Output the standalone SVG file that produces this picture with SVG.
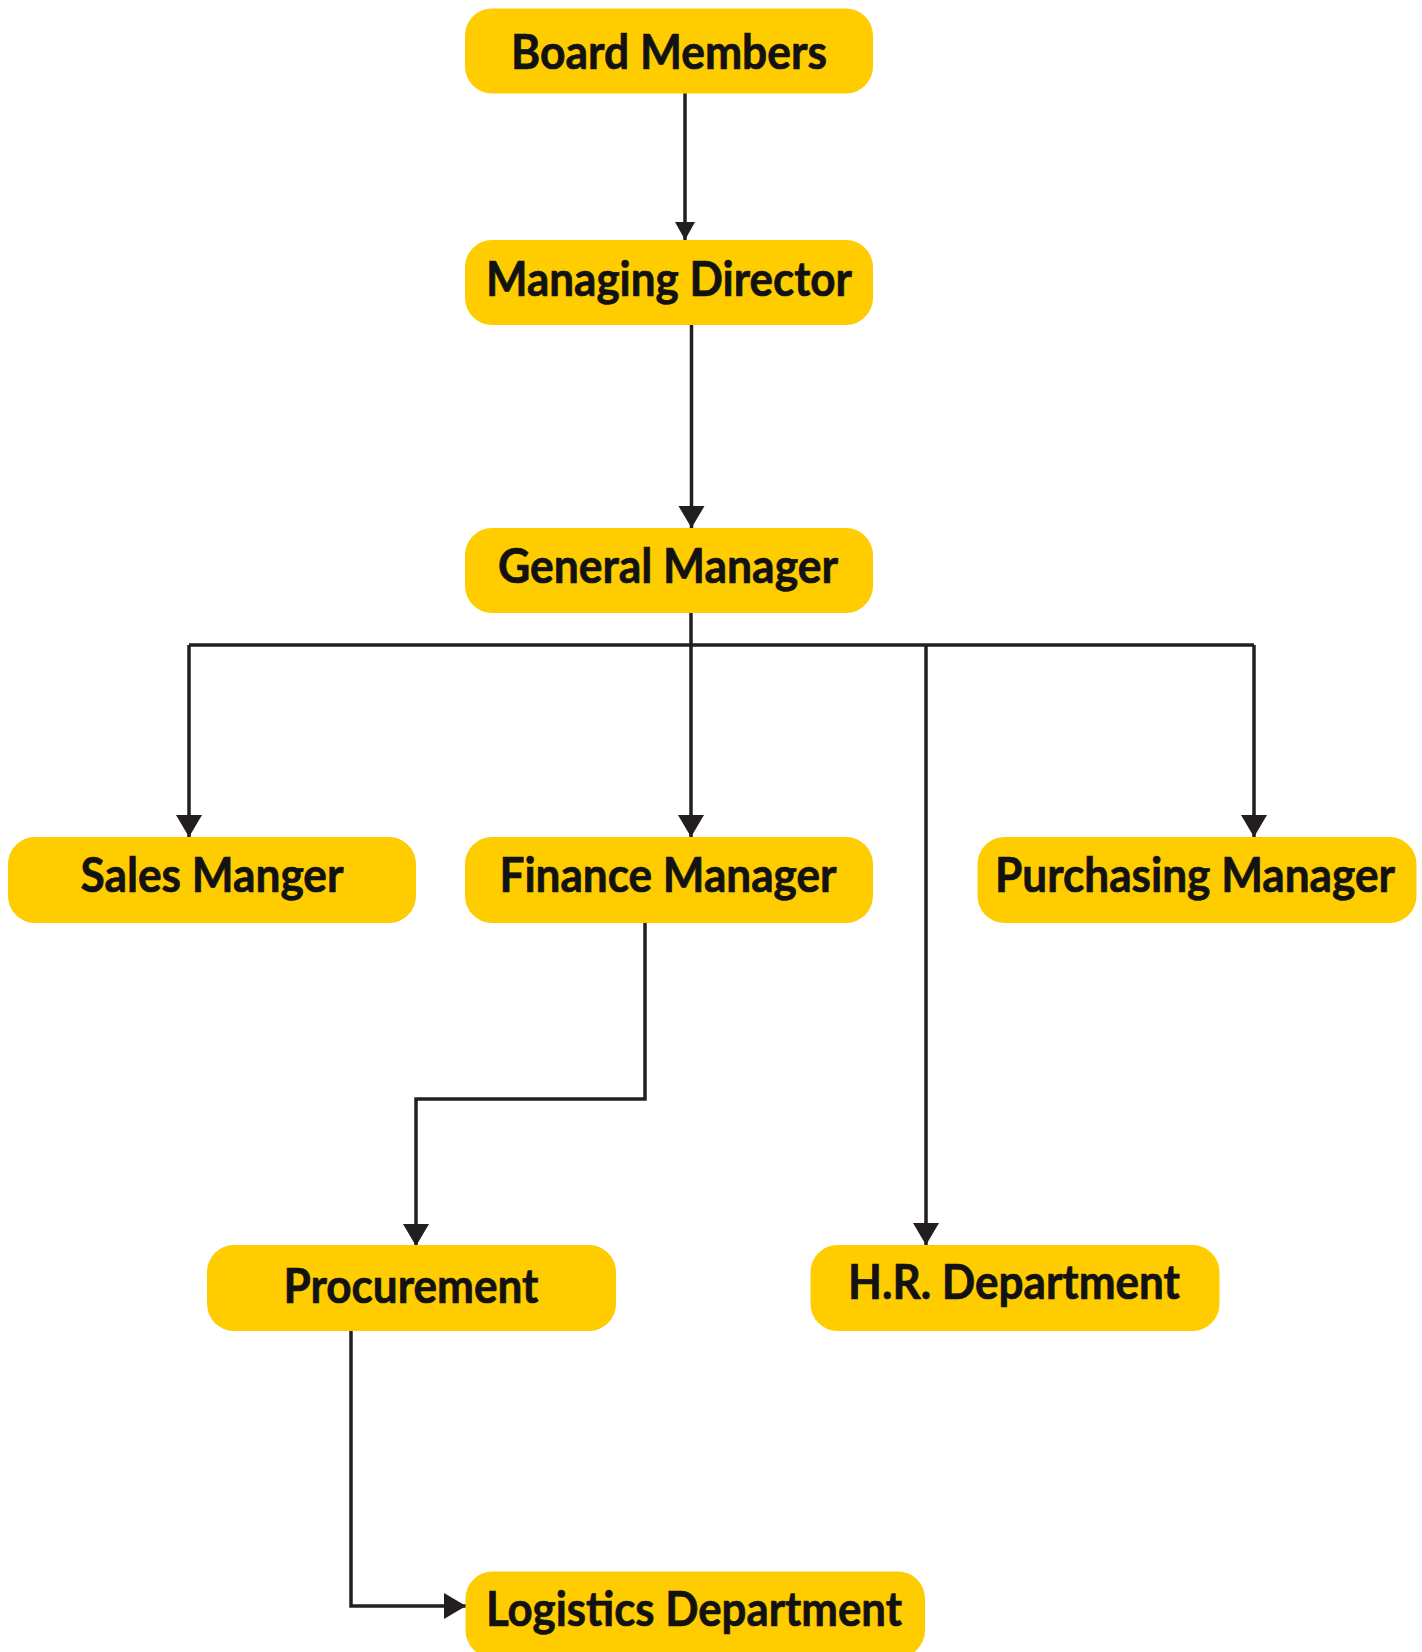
<svg xmlns="http://www.w3.org/2000/svg" width="1422" height="1652" viewBox="0 0 1422 1652">
<style>
.box{fill:#FFCC00}
.lbl{font-family:Lato,"Open Sans","Liberation Sans",sans-serif;font-weight:700;font-size:47px;fill:#121212;stroke:#121212;stroke-width:0.7;text-anchor:middle}
.con{fill:none;stroke:#231f20;stroke-width:3.5}
</style>
<defs>
<marker id="ah" markerUnits="userSpaceOnUse" markerWidth="24" markerHeight="28" refX="22" refY="13" orient="auto">
<path d="M0,0 L22,13 L0,26 z" fill="#231f20"/>
</marker>
<marker id="ahs" markerUnits="userSpaceOnUse" markerWidth="20" markerHeight="22" refX="18" refY="10" orient="auto">
<path d="M0,0 L18,10 L0,20 z" fill="#231f20"/>
</marker>
</defs>
<rect width="1422" height="1652" fill="#ffffff"/>
<g id="connectors">
<path class="con" d="M685,93 V240" marker-end="url(#ahs)"/>
<path class="con" d="M691.5,325 V528" marker-end="url(#ah)"/>
<path class="con" d="M691,613 V645"/>
<path class="con" d="M189,645 H1254"/>
<path class="con" d="M189,645 V837" marker-end="url(#ah)"/>
<path class="con" d="M691,645 V837" marker-end="url(#ah)"/>
<path class="con" d="M1254,645 V837" marker-end="url(#ah)"/>
<path class="con" d="M926,645 V1245" marker-end="url(#ah)"/>
<path class="con" d="M645,923 V1099 H416 V1246" marker-end="url(#ah)"/>
<path class="con" d="M351,1331 V1606 H466" marker-end="url(#ah)"/>
</g>
<g id="board-members">
<rect class="box" x="465" y="8.5" width="408" height="85" rx="27"/>
<text class="lbl" x="669" y="69" textLength="316" lengthAdjust="spacingAndGlyphs">Board Members</text>
</g>
<g id="managing-director">
<rect class="box" x="465" y="240" width="408" height="85" rx="27"/>
<text class="lbl" x="669" y="296" textLength="366" lengthAdjust="spacingAndGlyphs">Managing Director</text>
</g>
<g id="general-manager">
<rect class="box" x="465" y="528" width="408" height="85" rx="27"/>
<text class="lbl" x="668" y="583" textLength="340" lengthAdjust="spacingAndGlyphs">General Manager</text>
</g>
<g id="sales-manger">
<rect class="box" x="8" y="837" width="408" height="86" rx="27"/>
<text class="lbl" x="212" y="892" textLength="263" lengthAdjust="spacingAndGlyphs">Sales Manger</text>
</g>
<g id="finance-manager">
<rect class="box" x="465" y="837" width="408" height="86" rx="27"/>
<text class="lbl" x="668" y="892" textLength="337" lengthAdjust="spacingAndGlyphs">Finance Manager</text>
</g>
<g id="purchasing-manager">
<rect class="box" x="977.5" y="837" width="439" height="86" rx="27"/>
<text class="lbl" x="1195" y="892" textLength="400" lengthAdjust="spacingAndGlyphs">Purchasing Manager</text>
</g>
<g id="procurement">
<rect class="box" x="207" y="1245" width="409" height="86" rx="27"/>
<text class="lbl" x="411" y="1303" textLength="255" lengthAdjust="spacingAndGlyphs">Procurement</text>
</g>
<g id="hr-department">
<rect class="box" x="810.5" y="1245" width="409" height="86" rx="27"/>
<text class="lbl" x="1014" y="1299" textLength="332" lengthAdjust="spacingAndGlyphs">H.R. Department</text>
</g>
<g id="logistics-department">
<rect class="box" x="465.5" y="1571.5" width="459.5" height="86" rx="27"/>
<text class="lbl" x="694" y="1626" textLength="416" lengthAdjust="spacingAndGlyphs">Logistics Department</text>
</g>
</svg>
